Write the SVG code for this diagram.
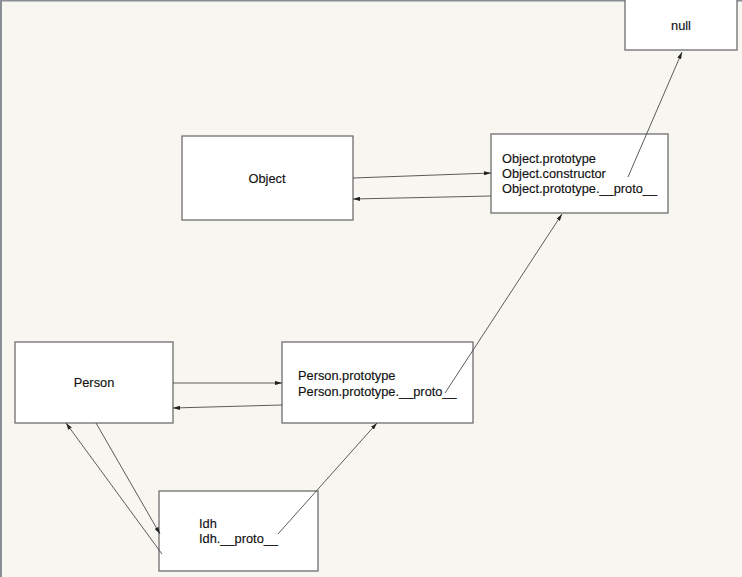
<svg xmlns="http://www.w3.org/2000/svg" width="742" height="577" viewBox="0 0 742 577">
<defs>
<style>
.box{fill:#ffffff;stroke:#6e6e6e;stroke-width:1.3}
.lbl{font-family:"Liberation Sans",Arial,sans-serif;font-size:12.8px;fill:#111;stroke:#111;stroke-width:0.15}
.edge{stroke:#4a4a4a;stroke-width:0.9;fill:none;marker-end:url(#ah)}
</style>
<marker id="ah" viewBox="0 0 10 6" refX="10" refY="3" markerWidth="7" markerHeight="4.2" orient="auto" markerUnits="userSpaceOnUse">
<path d="M0,0 L10,3 L0,6 z" fill="#222"/>
</marker>
</defs>
<rect x="0" y="0" width="742" height="577" fill="#f8f6f0"/>
<rect x="0" y="0" width="742" height="1.5" fill="#8a8d96"/>
<rect x="0" y="0" width="2" height="577" fill="#8a8d96"/>
<g id="node-null">
<rect class="box" x="625" y="-2" width="112" height="52"/>
<text class="lbl" x="681" y="30" text-anchor="middle">null</text>
</g>
<g id="node-object">
<rect class="box" x="182" y="136" width="171" height="84"/>
<text class="lbl" x="267" y="183" text-anchor="middle">Object</text>
</g>
<g id="node-object-prototype">
<rect class="box" x="491" y="134" width="177" height="79"/>
<text class="lbl" x="502" y="163">Object.prototype</text>
<text class="lbl" x="502" y="178">Object.constructor</text>
<text class="lbl" x="502" y="193">Object.prototype.__proto__</text>
</g>
<g id="node-person">
<rect class="box" x="15" y="342" width="158" height="81"/>
<text class="lbl" x="94" y="387" text-anchor="middle">Person</text>
</g>
<g id="node-person-prototype">
<rect class="box" x="282" y="342" width="191" height="81"/>
<text class="lbl" x="298" y="380">Person.prototype</text>
<text class="lbl" x="298" y="396">Person.prototype.__proto__</text>
</g>
<g id="node-idh">
<rect class="box" x="159" y="491" width="159" height="80"/>
<text class="lbl" x="199" y="528">Idh</text>
<text class="lbl" x="199" y="543">Idh.__proto__</text>
</g>
<g id="connectors">
<line class="edge" x1="628" y1="177" x2="682" y2="52"/>
<line class="edge" x1="353" y1="178" x2="491" y2="173"/>
<line class="edge" x1="491" y1="196" x2="353" y2="199"/>
<line class="edge" x1="173" y1="383" x2="282" y2="383"/>
<line class="edge" x1="282" y1="405" x2="173" y2="408"/>
<line class="edge" x1="445" y1="393" x2="562" y2="214"/>
<line class="edge" x1="96" y1="423" x2="160" y2="534"/>
<line class="edge" x1="162" y1="554" x2="66" y2="423"/>
<line class="edge" x1="278" y1="534" x2="377" y2="423"/>
</g>
</svg>
